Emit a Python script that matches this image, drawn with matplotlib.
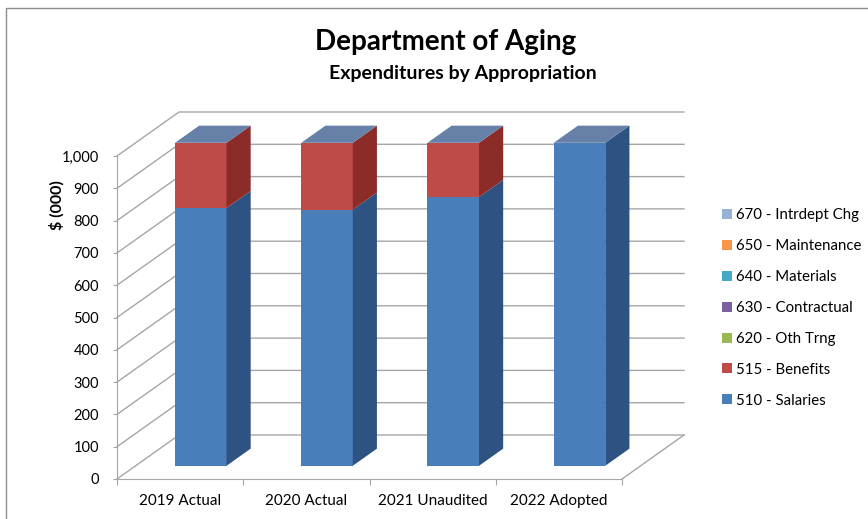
import matplotlib
matplotlib.use("Agg")
import matplotlib.pyplot as plt
from matplotlib.patches import Polygon, Patch, Rectangle

plt.rcParams['font.family'] = ['Lato', 'DejaVu Sans']

# data ($000), as shown in the chart
years = ['2019 Actual', '2020 Actual', '2021 Unaudited', '2022 Adopted']
salaries = [798, 793, 832, 1000]
benefits = [202, 207, 168, 0]
oth_trng = [0, 0, 0, 0]
contractual = [0, 0, 0, 0]
materials = [0, 0, 0, 0]
maintenance = [0, 0, 0, 0]
intrdept = [0, 0, 0, 0]

series = [
    ('510 - Salaries', salaries, '#4A7EBB'),
    ('515 - Benefits', benefits, '#BE4B48'),
    ('620 - Oth Trng', oth_trng, '#98B954'),
    ('630 - Contractual', contractual, '#7D60A0'),
    ('640 - Materials', materials, '#46AAC5'),
    ('650 - Maintenance', maintenance, '#F79646'),
    ('670 - Intrdept Chg', intrdept, '#95B3D7'),
]
side_colors = {'510 - Salaries': '#2E5383', '515 - Benefits': '#8C2C29'}
top_color = '#6680A8'

W, H = 868, 519
fig = plt.figure(figsize=(W / 100, H / 100), dpi=100)
ax = fig.add_axes([117 / W, 40 / H, 505 / W, 323 / H])
ax.set_xlim(0, 4)
ax.set_ylim(0, 1000)
ax.patch.set_visible(False)

# oblique depth: full depth moves (62px, -44px)
kx = 62 / 126.25
ky = 44 / 0.323


def proj(c, v, d):
    return (c + d * kx, v + d * ky)


grid = '#A6A6A6'
for v in range(0, 1001, 100):
    pts = [proj(0, v, 0), proj(0, v, 1), proj(4, v, 1)]
    ax.plot([p[0] for p in pts], [p[1] for p in pts], color=grid, lw=1,
            clip_on=False, zorder=1)
p0, p1 = proj(4, 0, 0), proj(4, 0, 1)
ax.plot([p0[0], p1[0]], [p0[1], p1[1]], color=grid, lw=1, clip_on=False, zorder=1)

# bars
d0, d1 = 0.30, 0.69
for i in range(len(years)):
    cl, cr = i + 0.312, i + 0.720
    base = 0
    for name, vals, col in series:
        val = vals[i]
        if val <= 0:
            continue
        top = base + val
        front = [proj(cl, base, d0), proj(cr, base, d0), proj(cr, top, d0), proj(cl, top, d0)]
        side = [proj(cr, base, d0), proj(cr, base, d1), proj(cr, top, d1), proj(cr, top, d0)]
        ax.add_patch(Polygon(front, closed=True, fc=col, ec='none', clip_on=False, zorder=3))
        ax.add_patch(Polygon(side, closed=True, fc=side_colors.get(name, col), ec='none',
                             clip_on=False, zorder=3))
        base = top
    lid = [proj(cl, base, d0), proj(cr, base, d0), proj(cr, base, d1), proj(cl, base, d1)]
    ax.add_patch(Polygon(lid, closed=True, fc=top_color, ec='none', clip_on=False, zorder=3))

# axes styling
for s in ['top', 'right']:
    ax.spines[s].set_visible(False)
for s in ['left', 'bottom']:
    ax.spines[s].set_color(grid)
ax.set_yticks(range(0, 1001, 100))
ax.set_yticklabels([f'{v:,}' for v in range(0, 1001, 100)])
ax.tick_params(axis='y', length=3, color=grid, labelsize=10.5, pad=10)
ax.set_xticks(range(5))
ax.set_xticklabels([])
ax.tick_params(axis='x', which='major', length=4.5, color=grid)
ax.set_xticks([0.5, 1.5, 2.5, 3.5], minor=True)
ax.set_xticklabels(years, minor=True)
ax.tick_params(axis='x', which='minor', length=0, labelsize=11, pad=11)

fig.text(57 / W, 1 - 205 / H, '$ (000)', rotation=90, ha='center', va='center',
         fontsize=11.5, fontweight='bold')
fig.text(446 / W, 1 - 42 / H, 'Department of Aging', ha='center', va='center',
         fontsize=20, fontweight='bold')
fig.text(463 / W, 1 - 74 / H, 'Expenditures by Appropriation', ha='center', va='center',
         fontsize=14, fontweight='bold')

handles = [Patch(fc=col, ec='none', label=name) for name, vals, col in series][::-1]
fig.legend(handles=handles, loc='upper left', bbox_to_anchor=(716 / W, 1 - 202 / H),
           frameon=False, fontsize=10.8, handlelength=0.65, handleheight=0.65,
           handletextpad=0.3, labelspacing=1.13, borderaxespad=0)

fig.add_artist(Rectangle((6 / W, -0.1), 1.1, 1 - 8 / H + 0.1, transform=fig.transFigure,
                         fill=False, ec='#8C8C8C', lw=1))

fig.savefig('out.png', dpi=100)
